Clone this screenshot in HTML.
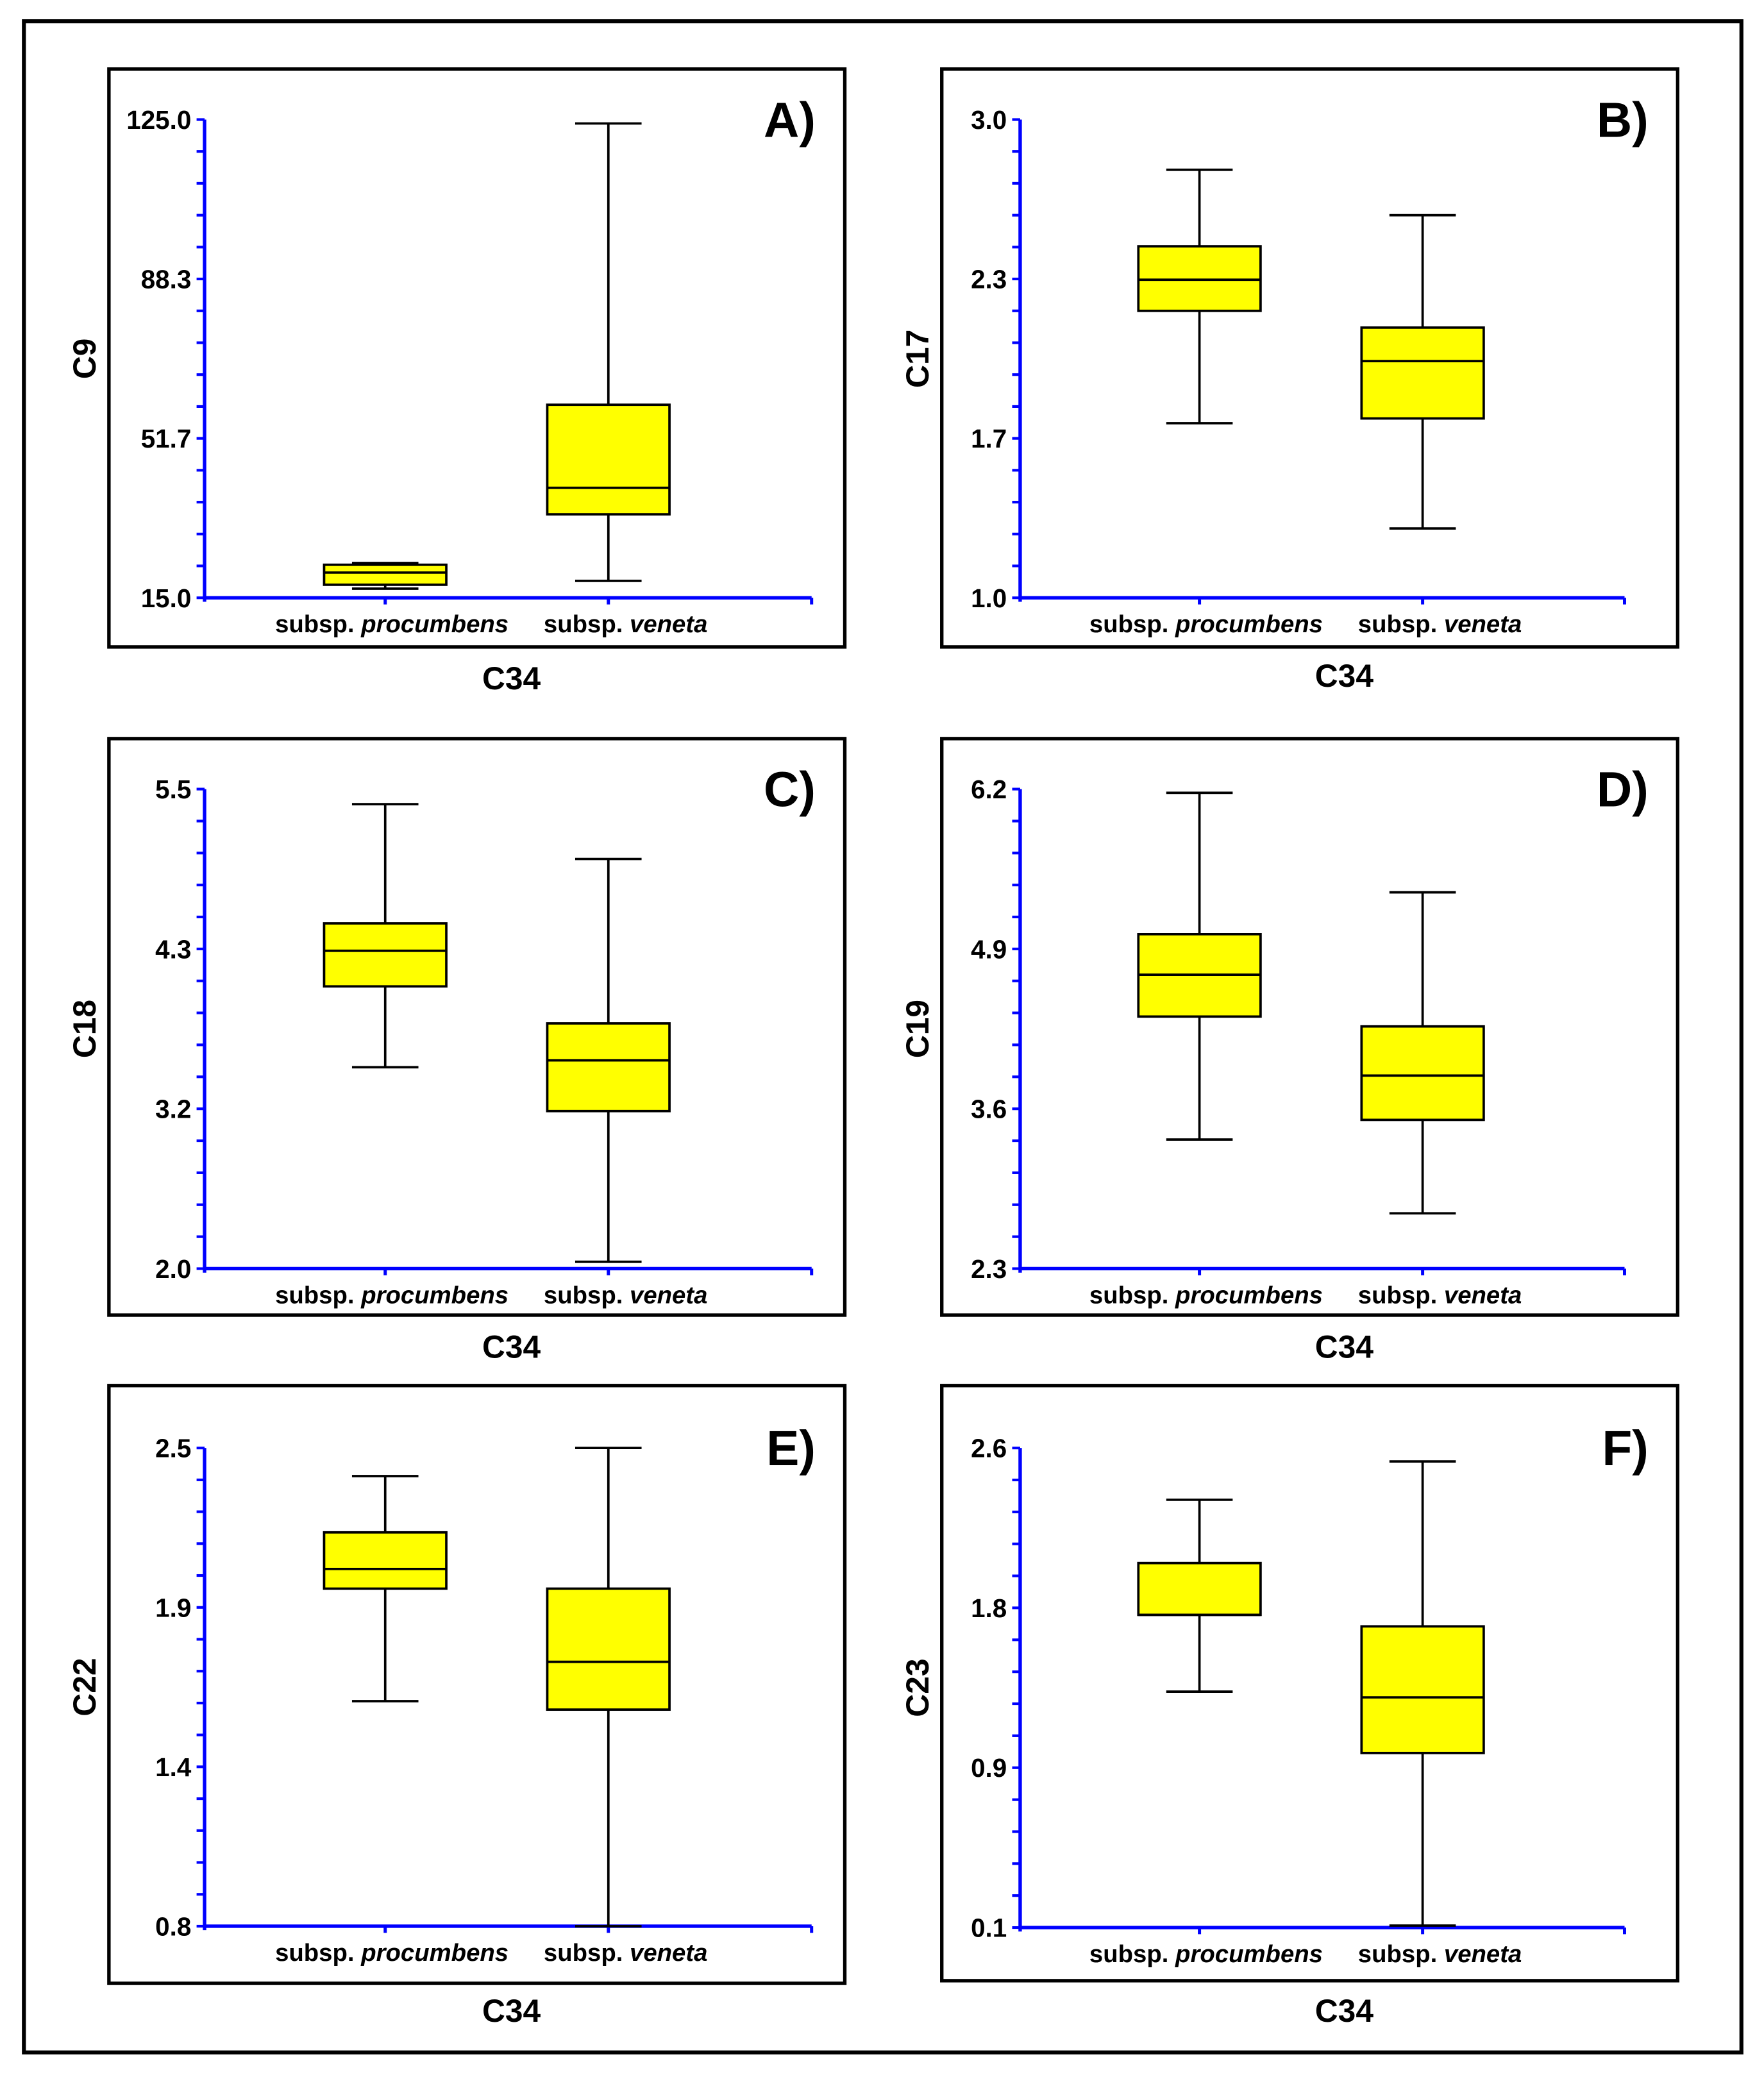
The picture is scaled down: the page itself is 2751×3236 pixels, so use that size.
<!DOCTYPE html>
<html><head><meta charset="utf-8">
<style>
html,body{margin:0;padding:0;background:#fff;}
svg{display:block;}
text{font-family:"Liberation Sans",sans-serif;font-weight:bold;fill:#000;}
</style></head>
<body>
<svg id="fig" width="2751" height="3236" viewBox="0 0 1328 1562" preserveAspectRatio="none" xmlns="http://www.w3.org/2000/svg">
<rect x="18" y="16" width="1293" height="1529" fill="none" stroke="#000" stroke-width="3"/>
</svg>
<script>
// ---- data ----
const categories = ["procumbens", "veneta"];
const panelLetters = ["A)", "B)", "C)", "D)", "E)", "F)"];
const yTitles = ["C9", "C17", "C18", "C19", "C22", "C23"];
const yMins = [15.0, 1.0, 2.0, 2.3, 0.8, 0.1];
const yMaxs = [125.0, 3.0, 5.5, 6.2, 2.5, 2.6];
const tickLabelsA = ["15.0", "51.7", "88.3", "125.0"];
const tickLabelsB = ["1.0", "1.7", "2.3", "3.0"];
const tickLabelsC = ["2.0", "3.2", "4.3", "5.5"];
const tickLabelsD = ["2.3", "3.6", "4.9", "6.2"];
const tickLabelsE = ["0.8", "1.4", "1.9", "2.5"];
const tickLabelsF = ["0.1", "0.9", "1.8", "2.6"];
// [low, q1, median, q3, high]
const procA = [17.1, 18.0, 20.8, 22.6, 23.0];
const venA  = [18.9, 34.2, 40.3, 59.4, 124.1];
const procB = [1.73, 2.20, 2.33, 2.47, 2.79];
const venB  = [1.29, 1.75, 1.99, 2.13, 2.60];
const procC = [3.47, 4.06, 4.32, 4.52, 5.39];
const venC  = [2.05, 3.15, 3.52, 3.79, 4.99];
const procD = [3.35, 4.35, 4.69, 5.02, 6.17];
const venD  = [2.75, 3.51, 3.87, 4.27, 5.36];
const procE = [1.60, 2.00, 2.07, 2.20, 2.40];
const venE  = [0.80, 1.57, 1.74, 2.00, 2.50];
const procF = [1.33, 1.73, 1.73, 2.00, 2.33];
const venF  = [0.11, 1.01, 1.30, 1.67, 2.53];

const tickLabelSets = [tickLabelsA, tickLabelsB, tickLabelsC, tickLabelsD, tickLabelsE, tickLabelsF];
const procSets = [procA, procB, procC, procD, procE, procF];
const venSets = [venA, venB, venC, venD, venE, venF];

// ---- layout (viewBox units) ----
const layout = [
  {px:82, py:52, pw:554, ph:435, ax:154, top:90, bot:450, right:611, cx:[290,458], titleY:510},
  {px:709, py:52, pw:554, ph:435, ax:768, top:90, bot:450, right:1223, cx:[903,1071], titleY:508},
  {px:82, py:556, pw:554, ph:434, ax:154, top:594, bot:955, right:611, cx:[290,458], titleY:1013},
  {px:709, py:556, pw:554, ph:434, ax:768, top:594, bot:955, right:1223, cx:[903,1071], titleY:1013},
  {px:82, py:1043, pw:554, ph:450, ax:154, top:1090, bot:1450, right:611, cx:[290,458], titleY:1513},
  {px:709, py:1043, pw:554, ph:448, ax:768, top:1090, bot:1451, right:1223, cx:[903,1071], titleY:1513}
];
const NS = "http://www.w3.org/2000/svg";
const svg = document.getElementById("fig");
function mk(tag, attrs, parent) {
  const e = document.createElementNS(NS, tag);
  for (const k in attrs) e.setAttribute(k, attrs[k]);
  parent.appendChild(e);
  return e;
}
for (let p = 0; p < 6; p++) {
  const L = layout[p];
  const g = mk("g", {}, svg);
  
  
  const yMin = yMins[p], yMax = yMaxs[p];
  const ys = v => L.bot - (v - yMin) / (yMax - yMin) * (L.bot - L.top);
  const frame = mk("rect", {x:L.px, y:L.py, width:L.pw, height:L.ph, fill:"none", stroke:"#000", "stroke-width":2.6}, g);
  
  
  for (let i = 0; i <= 15; i++) {
    const y = L.bot - i * (L.bot - L.top) / 15;
    const t = mk("line", {x1:L.ax - 6, x2:L.ax, y1:y, y2:y, stroke:"#0000ff", "stroke-width":2}, g);
    
    
  }
  const labs = tickLabelSets[p];
  for (let i = 0; i < labs.length; i++) {
    const y = L.bot - i * (L.bot - L.top) / 3;
    const t = mk("text", {x:L.ax - 10, y:y + 7, "text-anchor":"end", "font-size":19.5}, g);
    t.textContent = labs[i];
    
    
  }
  const yAxis = mk("line", {x1:L.ax, x2:L.ax, y1:L.top, y2:L.bot + 3, stroke:"#0000ff", "stroke-width":2.6}, g);
  
  
  const xAxis = mk("line", {x1:L.ax, x2:L.right, y1:L.bot, y2:L.bot, stroke:"#0000ff", "stroke-width":2.6}, g);
  
  
  [L.cx[0], L.cx[1], L.right].forEach(x => {
    const t = mk("line", {x1:x, x2:x, y1:L.bot, y2:L.bot + 5, stroke:"#0000ff", "stroke-width":2.4}, g);
    
    
  });
  const sets = [procSets[p], venSets[p]];
  for (let c = 0; c < 2; c++) {
    const d = sets[c], cx = L.cx[c];
    const bg = mk("g", {stroke:"#000", "stroke-width":1.8}, g);
    
    
    mk("line", {x1:cx, x2:cx, y1:ys(d[0]), y2:ys(d[4])}, bg);
    mk("line", {x1:cx - 25, x2:cx + 25, y1:ys(d[0]), y2:ys(d[0])}, bg);
    mk("line", {x1:cx - 25, x2:cx + 25, y1:ys(d[4]), y2:ys(d[4])}, bg);
    mk("rect", {x:cx - 46, y:ys(d[3]), width:92, height:ys(d[1]) - ys(d[3]), fill:"#ffff00"}, bg);
    mk("line", {x1:cx - 46, x2:cx + 46, y1:ys(d[2]), y2:ys(d[2])}, bg);
  }
  for (let c = 0; c < 2; c++) {
    const t = mk("text", {x:L.cx[c] - (c === 0 ? -5 : -13), y:L.bot + 26, "text-anchor":"middle", "font-size":18.5}, g);
    
    
    const s1 = mk("tspan", {}, t); s1.textContent = "subsp. ";
    const s2 = mk("tspan", {"font-style":"italic"}, t); s2.textContent = categories[c];
  }
  const yt = mk("text", {x:0, y:0, "text-anchor":"middle", "font-size":24, transform:"translate(" + (L.px - 10) + "," + ((L.top + L.bot) / 2) + ") rotate(-90)"}, g);
  yt.textContent = yTitles[p];
  
  
  const xt = mk("text", {x:L.px + 303, y:L.titleY + 9, "text-anchor":"middle", "font-size":24}, g);
  xt.textContent = "C34";
  
  
  const lt = mk("text", {x:L.px + L.pw - 22, y:L.top + 13, "text-anchor":"end", "font-size":37}, g);
  lt.textContent = panelLetters[p];
  
  
}
</script>
</body></html>
